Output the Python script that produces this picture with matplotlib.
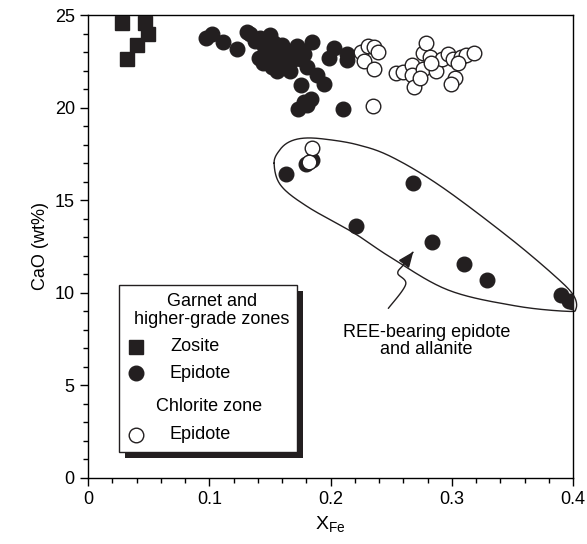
import numpy as np
import matplotlib
matplotlib.use("Agg")
import matplotlib.pyplot as plt
from matplotlib.patches import Rectangle, FancyArrowPatch
from matplotlib.path import Path
from matplotlib.lines import Line2D

plt.rcParams["font.family"] = ["Liberation Sans", "DejaVu Sans"]
plt.rcParams["mathtext.fontset"] = "custom"
plt.rcParams["mathtext.rm"] = "Liberation Sans"
plt.rcParams["mathtext.it"] = "Liberation Sans"

# zoisite, garnet and higher-grade zones
zo_x = [0.028, 0.0467, 0.0494, 0.0408, 0.032]
zo_y = [24.58, 24.58, 23.97, 23.40, 22.64]

# epidote, garnet and higher-grade zones
ep_x = [0.097, 0.102, 0.111, 0.123, 0.131, 0.134, 0.138, 0.142, 0.145, 0.147,
        0.144, 0.141, 0.148, 0.150, 0.153, 0.155, 0.157, 0.159, 0.160, 0.162,
        0.165, 0.167, 0.170, 0.172, 0.175, 0.176, 0.178, 0.185, 0.181, 0.189,
        0.195, 0.176, 0.184, 0.181, 0.173, 0.178, 0.199, 0.203, 0.214, 0.214,
        0.210, 0.152, 0.156,
        # REE-bearing epidote and allanite
        0.163, 0.180, 0.185, 0.268, 0.221, 0.284, 0.310, 0.329, 0.390, 0.397, 0.400]
ep_y = [23.75, 24.00, 23.55, 23.15, 24.10, 24.00, 23.60, 23.75, 23.30, 23.50,
        22.40, 22.70, 22.90, 23.90, 23.50, 23.20, 22.80, 22.55, 23.40, 23.10,
        22.30, 21.95, 22.60, 23.30, 23.10, 22.60, 22.90, 23.55, 22.20, 21.75,
        21.30, 21.20, 20.45, 20.15, 19.95, 20.30, 22.70, 23.20, 22.55, 22.90,
        19.90, 22.20, 22.00,
        16.40, 16.95, 17.15, 15.95, 13.60, 12.75, 11.55, 10.70, 9.90, 9.55, 9.50]

# epidote, chlorite zone
ch_x = [0.225, 0.231, 0.236, 0.239, 0.228, 0.236, 0.235, 0.254, 0.260, 0.267,
        0.267, 0.269, 0.276, 0.279, 0.282, 0.276, 0.274, 0.287, 0.292, 0.297,
        0.301, 0.308, 0.312, 0.318, 0.303, 0.299, 0.283, 0.305,
        0.185, 0.1825]
ch_y = [23.00, 23.30, 23.25, 23.00, 22.50, 22.10, 20.10, 21.85, 21.90, 22.30,
        21.75, 21.10, 22.95, 23.50, 22.75, 22.10, 21.60, 22.00, 22.65, 22.90,
        22.65, 22.75, 22.85, 22.95, 21.60, 21.30, 22.40, 22.40,
        17.80, 17.05]

# outline around the REE-bearing group
loop_x = [0.1535, 0.158, 0.166, 0.178, 0.195, 0.222, 0.250, 0.291, 0.347, 0.386,
          0.4005, 0.4025, 0.395, 0.352, 0.297, 0.250, 0.220, 0.181, 0.159]
loop_y = [17.0, 17.7, 18.15, 18.35, 18.3, 18.0, 17.35, 15.75, 13.0, 10.85,
          9.85, 9.15, 9.0, 9.3, 10.15, 11.9, 13.2, 14.65, 15.8]

# wavy pointer
arr_x = [0.2477, 0.2620, 0.2555, 0.2600, 0.2683]
arr_y = [9.16, 10.45, 11.05, 11.50, 12.22]


def catmull(px, py, closed=False, n=20):
    p = np.column_stack([px, py])
    if closed:
        p = np.vstack([p[-1], p, p[0], p[1]])
    else:
        p = np.vstack([p[0], p, p[-1]])
    out = []
    for i in range(1, len(p) - 2):
        p0, p1, p2, p3 = p[i - 1], p[i], p[i + 1], p[i + 2]
        for t in np.linspace(0, 1, n, endpoint=False):
            t2, t3 = t * t, t * t * t
            out.append(0.5 * ((2 * p1) + (-p0 + p2) * t
                              + (2 * p0 - 5 * p1 + 4 * p2 - p3) * t2
                              + (-p0 + 3 * p1 - 3 * p2 + p3) * t3))
    out.append(p[-2])
    return np.array(out)


fig = plt.figure(figsize=(5.87, 5.44), dpi=100)
ax = fig.add_axes([88 / 587, 66 / 544, 485 / 587, 463 / 544])

ax.plot(zo_x, zo_y, ls="none", marker="s", ms=10, mfc="#231f20", mec="#231f20", zorder=3)
ax.plot(ep_x, ep_y, ls="none", marker="o", ms=10.5, mfc="#231f20", mec="#231f20", zorder=3)
ax.plot(ch_x, ch_y, ls="none", marker="o", ms=10.5, mfc="white", mec="#231f20", mew=1.0, zorder=4)

loop = catmull(loop_x, loop_y, closed=True)
ax.plot(loop[:, 0], loop[:, 1], color="#231f20", lw=1.0, zorder=2, clip_on=False)

wav = catmull(arr_x, arr_y, n=15)
arrow = FancyArrowPatch(path=Path(wav), arrowstyle="-|>,head_length=0.6,head_width=0.25",
                        mutation_scale=16, color="#231f20", lw=1.0, zorder=5)
ax.add_patch(arrow)
ax.text(0.2793, 8.3, "REE-bearing epidote\nand allanite", ha="center", va="top",
        fontsize=13, linespacing=1.0)

ax.set_xlim(0, 0.4)
ax.set_ylim(0, 25)
ax.set_xticks([0, 0.1, 0.2, 0.3, 0.4])
ax.set_xticklabels(["0", "0.1", "0.2", "0.3", "0.4"])
ax.set_xticks(np.arange(0, 0.401, 0.02), minor=True)
ax.set_yticks([0, 5, 10, 15, 20, 25])
ax.set_yticks(np.arange(0, 25.1, 1), minor=True)
ax.tick_params(which="both", direction="out", top=False, right=False, labelsize=13, width=1.0)
ax.tick_params(which="major", length=6)
ax.tick_params(which="minor", length=3.5)
for s in ax.spines.values():
    s.set_linewidth(1.0)
ax.set_xlabel("X$_{\\mathrm{Fe}}$", fontsize=14)
ax.set_ylabel("CaO (wt%)", fontsize=13)

# legend box with hard shadow
tr = ax.transAxes
ax.add_patch(Rectangle((0.0757, 0.0438), 0.367, 0.360, transform=tr,
                       facecolor="#231f20", edgecolor="none", zorder=6))
ax.add_patch(Rectangle((0.0633, 0.0568), 0.367, 0.360, transform=tr,
                       facecolor="white", edgecolor="#231f20", lw=1.0, zorder=7))
ax.text(0.255, 0.3808, "Garnet and", transform=tr, ha="center", va="center", fontsize=13, zorder=8)
ax.text(0.255, 0.3413, "higher-grade zones", transform=tr, ha="center", va="center", fontsize=13, zorder=8)
ax.text(0.169, 0.2836, "Zosite", transform=tr, ha="left", va="center", fontsize=13, zorder=8)
ax.text(0.169, 0.2261, "Epidote", transform=tr, ha="left", va="center", fontsize=13, zorder=8)
ax.text(0.140, 0.154, "Chlorite zone", transform=tr, ha="left", va="center", fontsize=13, zorder=8)
ax.text(0.169, 0.0929, "Epidote", transform=tr, ha="left", va="center", fontsize=13, zorder=8)
ax.add_line(Line2D([0.098], [0.2836], transform=tr, marker="s", ms=10, ls="none",
                   mfc="#231f20", mec="#231f20", zorder=8))
ax.add_line(Line2D([0.098], [0.2261], transform=tr, marker="o", ms=10.5, ls="none",
                   mfc="#231f20", mec="#231f20", zorder=8))
ax.add_line(Line2D([0.098], [0.0929], transform=tr, marker="o", ms=10.5, ls="none",
                   mfc="white", mec="#231f20", mew=1.0, zorder=8))

fig.savefig("out.png", dpi=100)
